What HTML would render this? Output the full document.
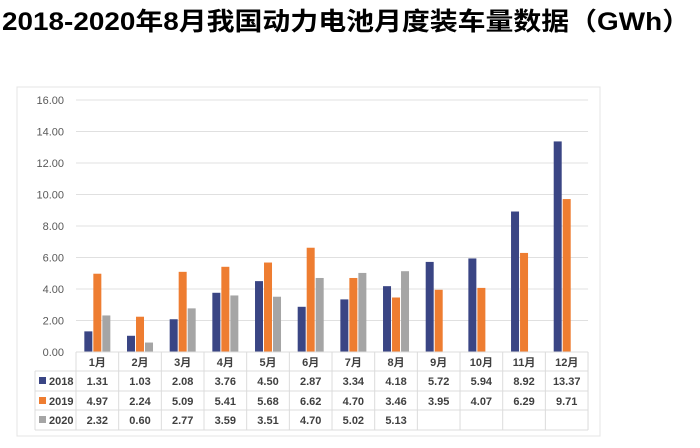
<!DOCTYPE html>
<html><head><meta charset="utf-8"><style>
body{margin:0;background:#fff;width:700px;height:443px;overflow:hidden;font-family:"Liberation Sans","Noto Sans CJK SC",sans-serif}
</style></head><body>
<svg id="c" width="700" height="443" xmlns="http://www.w3.org/2000/svg">
<text x="2" y="30" font-size="25" font-weight="bold" fill="#000" textLength="688" lengthAdjust="spacingAndGlyphs" font-family="Liberation Sans, Noto Sans CJK SC, sans-serif">2018-2020年8月我国动力电池月度装车量数据（GWh）</text>
<rect x="17" y="87" width="583" height="349" fill="#fff" stroke="#e4e4e4"/>
<g id="g"></g>
</svg>
<script>
const categories=["1月","2月","3月","4月","5月","6月","7月","8月","9月","10月","11月","12月"];
const seriesNames=["2018","2019","2020"];
const s2018=[1.31,1.03,2.08,3.76,4.50,2.87,3.34,4.18,5.72,5.94,8.92,13.37];
const s2019=[4.97,2.24,5.09,5.41,5.68,6.62,4.70,3.46,3.95,4.07,6.29,9.71];
const s2020=[2.32,0.60,2.77,3.59,3.51,4.70,5.02,5.13,null,null,null,null];
const yTicks=[0,2,4,6,8,10,12,14,16];
const colors=["#3a4584","#ee7d31","#a5a5a5"];
const NS="http://www.w3.org/2000/svg",g=document.getElementById('g');
const x0=76,cw=42.67,y0=352,yTop=100,ymax=16;
const y=v=>y0-(v/ymax)*(y0-yTop);
const xc=i=>x0+cw*i+cw/2;
function mk(t,a,txt){const e=document.createElementNS(NS,t);for(const k in a)e.setAttribute(k,a[k]);if(txt!=null)e.textContent=txt;g.appendChild(e);return e;}
yTicks.forEach(v=>{
 if(v>0){const l=mk('line',{x1:x0,x2:x0+cw*12,y1:y(v),y2:y(v),stroke:'#e0e0e0'});
 
 }
 const t=mk('text',{x:64,y:y(v)+4,'text-anchor':'end','font-size':11,fill:'#595959'},v.toFixed(2));
 
 
});
const all=[s2018,s2019,s2020];
all.forEach((s,k)=>s.forEach((v,i)=>{
 if(v==null)return;
 const r=mk('rect',{x:xc(i)-13+k*9,y:y(v),width:8,height:y0-y(v),fill:colors[k]});
 
 
}));
// table
const rows=[352,371,391,410,430];
rows.forEach((ry,j)=>{const l=mk('line',{x1:j==0?x0:35,x2:x0+cw*12,y1:ry,y2:ry,stroke:'#dcdcdc'});
 
 });
for(let i=0;i<=12;i++){const l=mk('line',{x1:x0+cw*i,x2:x0+cw*i,y1:352,y2:430,stroke:'#dcdcdc'});
 
 }
const l0=mk('line',{x1:35,x2:35,y1:371,y2:430,stroke:'#dcdcdc'});


categories.forEach((c,i)=>{const t=mk('text',{x:xc(i),y:366,'text-anchor':'middle','font-size':11,'font-weight':'bold',fill:'#404040'},c);
 
 });
all.forEach((s,k)=>{
 const ry=rows[k+1]+14;
 const m=mk('rect',{x:39,y:ry-8,width:7,height:7,fill:colors[k]});
 
 
 const lt=mk('text',{x:49,y:ry,'font-size':11,'font-weight':'bold',fill:'#404040'},seriesNames[k]);
 
 
 s.forEach((v,i)=>{if(v==null)return;
  const t=mk('text',{x:xc(i),y:ry,'text-anchor':'middle','font-size':11,'font-weight':'bold',fill:'#404040'},v.toFixed(2));
  
  });
});
</script>
</body></html>
